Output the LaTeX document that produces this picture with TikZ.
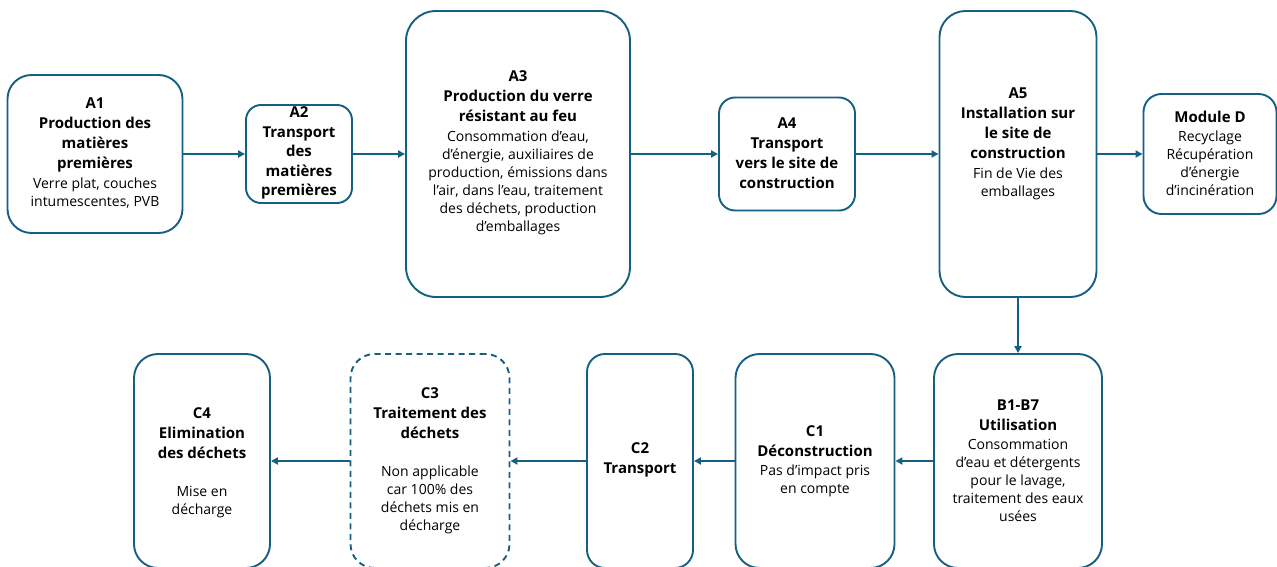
\documentclass[tikz,border=0pt]{standalone}
\usepackage{fontspec}
\setmainfont{Open Sans}
\usetikzlibrary{arrows.meta}
\definecolor{accent}{HTML}{156082}
\newcommand\tb[1]{{\fontsize{15}{18}\selectfont\bfseries #1}}
\begin{document}
\begin{tikzpicture}[x=1pt,y=-1pt,
  box/.style={draw=accent,line width=1.9pt,rounded corners=#1,inner sep=0pt},
  box/.default=24pt,
  dashbox/.style={box,dash pattern=on 6pt off 4.5pt},
  txt/.style={align=center,inner sep=0pt,font=\fontsize{14}{18}\selectfont,text=black},
  flow/.style={draw=accent,line width=1.9pt,-{Triangle[length=7pt,width=7pt]}}]
\useasboundingbox (0,0) rectangle (1277,567);
% top row
\node[box,minimum width=175pt,minimum height=158pt] (A1) at (95,154) {};
\node[box=15pt,minimum width=106pt,minimum height=98pt] (A2) at (299,154) {};
\node[box=30pt,minimum width=224pt,minimum height=286pt] (A3) at (518,154) {};
\node[box=16pt,minimum width=136pt,minimum height=113pt] (A4) at (787,154) {};
\node[box=26pt,minimum width=157pt,minimum height=286pt] (A5) at (1018,154) {};
\node[box=18pt,minimum width=133pt,minimum height=120pt] (D) at (1210,154) {};
% bottom row
\node[box,minimum width=168pt,minimum height=214pt] (B) at (1018,461) {};
\node[box,minimum width=159pt,minimum height=214pt] (C1) at (815,461) {};
\node[box=18pt,minimum width=106pt,minimum height=214pt] (C2) at (640,461) {};
\node[dashbox,minimum width=159pt,minimum height=214pt] (C3) at (430,461) {};
\node[box,minimum width=136pt,minimum height=214pt] (C4) at (202,461) {};
% texts
\node[txt] (tA1) at (95,153) {\tb{A1}\\[2pt]\tb{Production des}\\[2pt]\tb{matières}\\[2pt]\tb{premières}\\[2pt]Verre plat, couches\\intumescentes, PVB};
\node[txt] (tA2) at (299,153) {\tb{A2}\\[1.5pt]\tb{Transport}\\[1.5pt]\tb{des}\\[1.5pt]\tb{matières}\\[1.5pt]\tb{premières}};
\node[txt] (tA3) at (518,153) {\tb{A3}\\[2pt]\tb{Production du verre}\\[2pt]\tb{résistant au feu}\\[2pt]Consommation d’eau,\\d’énergie, auxiliaires de\\production, émissions dans\\l’air, dans l’eau, traitement\\des déchets, production\\d’emballages};
\node[txt] (tA4) at (787,153) {\tb{A4}\\[2pt]\tb{Transport}\\[2pt]\tb{vers le site de}\\[2pt]\tb{construction}};
\node[txt] (tA5) at (1018,144) {\tb{A5}\\[2pt]\tb{Installation sur}\\[2pt]\tb{le site de}\\[2pt]\tb{construction}\\[2pt]Fin de Vie des\\emballages};
\node[txt] (tD) at (1210,153) {\tb{Module D}\\[1pt]Recyclage\\Récupération\\d’énergie\\d’incinération};
\node[txt] (tB) at (1018,461) {\tb{B1-B7}\\[2pt]\tb{Utilisation}\\[1pt]Consommation\\d’eau et détergents\\pour le lavage,\\traitement des eaux\\usées};
\node[txt] (tC1) at (815,461) {\tb{C1}\\[2pt]\tb{Déconstruction}\\[1pt]Pas d’impact pris\\en compte};
\node[txt] (tC2) at (640,460) {\tb{C2}\\[2pt]\tb{Transport}};
\node[txt] (tC3) at (430,461) {\tb{C3}\\[2pt]\tb{Traitement des}\\[2pt]\tb{déchets}\\[20pt]Non applicable\\car 100\% des\\déchets mis en\\décharge};
\node[txt] (tC4) at (202,463) {\tb{C4}\\[2pt]\tb{Elimination}\\[2pt]\tb{des déchets}\\[20pt]Mise en\\décharge};
% connectors
\draw[flow] (A1.east) -- (A1.east -| A2.west);
\draw[flow] (A2.east) -- (A2.east -| A3.west);
\draw[flow] (A3.east) -- (A3.east -| A4.west);
\draw[flow] (A4.east) -- (A4.east -| A5.west);
\draw[flow] (A5.east) -- (A5.east -| D.west);
\draw[flow] (A5.south) -- (A5.south |- B.north);
\draw[flow] (B.west) -- (B.west -| C1.east);
\draw[flow] (C1.west) -- (C1.west -| C2.east);
\draw[flow] (C2.west) -- (C2.west -| C3.east);
\draw[flow] (C3.west) -- (C3.west -| C4.east);
\end{tikzpicture}
\end{document}
